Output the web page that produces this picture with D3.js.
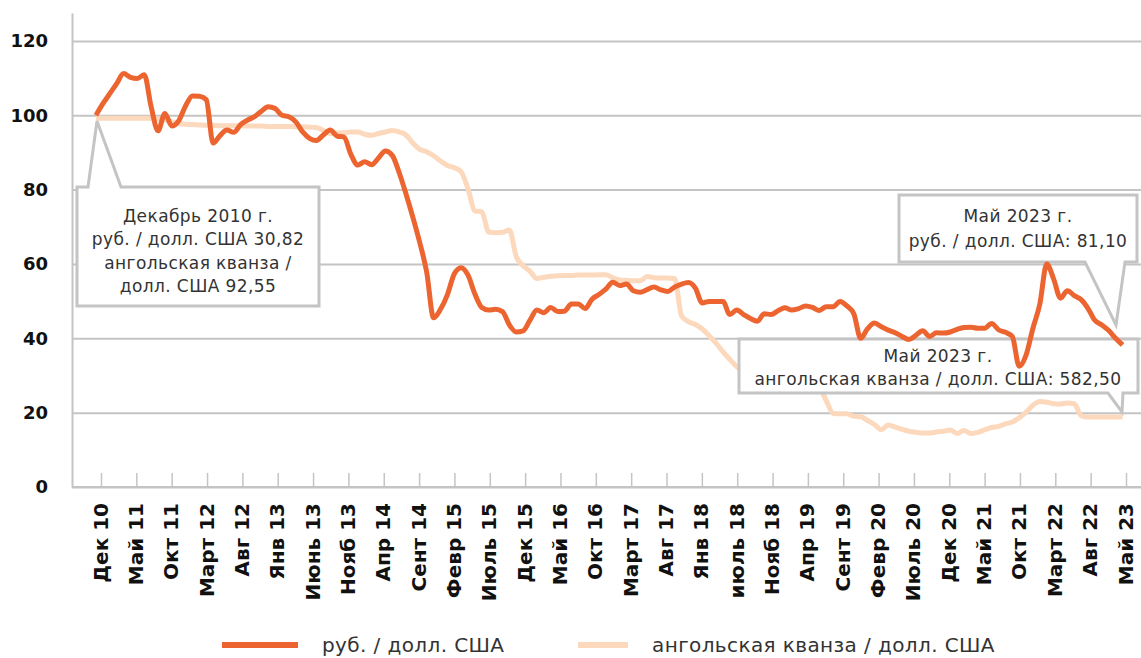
<!DOCTYPE html>
<html>
<head>
<meta charset="utf-8">
<script src="https://cdn.jsdelivr.net/npm/d3@7"></script>
<style>
  body { margin: 0; background: #fff; }
  svg { display: block; }
</style>
</head>
<body>
<div id="chart"></div>
<script>
// tick labels along the bottom (every 5th period)
var xLabels = ["Дек 10", "Май 11", "Окт 11", "Март 12", "Авг 12", "Янв 13", "Июнь 13", "Нояб 13",
  "Апр 14", "Сент 14", "Февр 15", "Июль 15", "Дек 15", "Май 16", "Окт 16", "Март 17", "Авг 17",
  "Янв 18", "июль 18", "Нояб 18", "Апр 19", "Сент 19", "Февр 20", "Июль 20", "Дек 20", "Май 21",
  "Окт 21", "Март 22", "Авг 22", "Май 23"];

var yTicks = [0, 20, 40, 60, 80, 100, 120];

// index, Dec 2010 = 100, monthly
var rub = [100, 103.1, 105.8, 108.5, 111.2, 110.2, 109.9, 110.9, 102.3, 95.8,
  100.5, 97.1, 98.5, 102.5, 105.2, 105.1, 104.2, 92.5, 94.5, 96.0,
  95.4, 97.5, 98.7, 99.6, 101.1, 102.3, 101.8, 100.0, 99.6, 98.2,
  95.5, 93.8, 93.2, 94.7, 96.0, 94.4, 94.1, 89.5, 86.6, 87.5,
  86.7, 88.5, 90.4, 89.2, 84.6, 78.8, 72.5, 65.7, 57.8, 45.5,
  47.8, 51.7, 57.3, 59.0, 57.0, 51.9, 48.3, 47.6, 47.8, 47.2,
  43.6, 41.7, 42.0, 44.9, 47.6, 46.9, 48.3, 47.2, 47.3, 49.2,
  49.2, 48.0, 50.5, 51.8, 53.2, 55.1, 54.2, 54.6, 52.8, 52.4,
  53.1, 53.8, 53.0, 52.6, 53.8, 54.6, 55.0, 53.5, 49.5, 49.9,
  49.9, 49.9, 46.4, 47.6, 46.4, 45.3, 44.6, 46.6, 46.4, 47.4,
  48.2, 47.6, 48.0, 48.7, 48.3, 47.5, 48.5, 48.5, 49.9, 48.7,
  46.6, 40.0, 42.6, 44.1, 43.1, 42.2, 41.5, 40.5, 39.7, 40.8,
  42.0, 40.5, 41.5, 41.4, 41.7, 42.4, 42.9, 43.0, 42.7, 42.7,
  44.0, 42.3, 41.6, 40.5, 32.5, 35.5, 42.7, 49.2, 60.0, 56.0,
  50.8, 52.8, 51.5, 50.4, 48.0, 44.8, 43.6, 42.1, 40.0, 38.2];

var kwanza = [99.2, 99.2, 99.2, 99.2, 99.2, 99.2, 99.2, 99.2, 99.2, 99.0,
  98.8, 98.2, 97.8, 97.6, 97.5, 97.4, 97.3, 97.3, 97.2, 97.2,
  97.2, 97.2, 97.1, 97.1, 97.1, 97.0, 97.0, 97.0, 97.0, 96.9,
  96.9, 96.8, 96.7, 95.9, 95.1, 95.2, 95.3, 95.5, 95.5, 94.9,
  94.6, 95.1, 95.5, 95.9, 95.5, 94.7, 92.5, 90.8, 90.2, 89.1,
  87.7, 86.5, 85.9, 84.8, 80.2, 74.3, 74.0, 68.6, 68.4, 68.5,
  69.1, 62.0, 59.5, 58.0, 56.1, 56.4, 56.7, 56.8, 56.9, 56.9,
  57.0, 57.0, 57.0, 57.1, 57.1, 56.3, 55.7, 55.6, 55.5, 55.5,
  56.6, 56.3, 56.2, 56.2, 56.0, 46.0, 44.5, 43.7, 42.5, 40.7,
  38.7, 36.4, 34.3, 32.4, 31.0, 30.2, 29.5, 29.0, 28.6, 28.3,
  28.0, 27.8, 27.5, 27.2, 27.0, 26.5, 23.2, 19.8, 19.7, 19.7,
  19.0, 18.9, 17.9, 16.8, 15.4, 16.7, 16.1, 15.5, 15.0, 14.7,
  14.5, 14.5, 14.8, 15.0, 15.3, 14.4, 15.2, 14.4, 14.7, 15.4,
  16.0, 16.3, 17.0, 17.5, 18.6, 20.1, 22.0, 23.0, 22.8, 22.4,
  22.3, 22.6, 22.4, 19.2, 18.8, 18.8, 18.8, 18.8, 18.8, 18.8];

var seriesNames = ["руб. / долл. США", "ангольская кванза / долл. США"];
var colors = ["#ec6531", "#fcd8bd"];

var W = 1141, H = 658;
var axisX = 72, axisY = 487;

var svg = d3.select("#chart").append("svg")
  .attr("width", W).attr("height", H);

var x = d3.scaleLinear().domain([0, rub.length - 1]).range([96, 1122.5]);
var xLab = d3.scalePoint().domain(xLabels).range([101, 1126]);
var y = d3.scaleLinear().domain([0, 127.5]).range([axisY, 13]);

// grid
svg.append("g")
  .attr("transform", "translate(" + axisX + ",0)")
  .call(d3.axisLeft(y).tickValues(yTicks).tickSize(-(W - axisX)).tickFormat(""))
  .call(function(g) { g.select(".domain").remove(); })
  .selectAll("line")
    .attr("stroke", "#c4c4c4")
    .attr("stroke-width", 2);

// y axis labels
svg.append("g")
  .attr("transform", "translate(" + axisX + ",0)")
  .call(d3.axisLeft(y).tickValues(yTicks).tickSize(0).tickPadding(24))
  .call(function(g) {
    g.select(".domain").attr("stroke", "#c4c4c4").attr("stroke-width", 2);
  })
  .selectAll("text")
    .attr("font-family", "DejaVu Sans")
    .attr("font-weight", "bold")
    .attr("font-size", "18px")
    .attr("fill", "#111");

// x axis
svg.append("line")
  .attr("x1", axisX).attr("x2", W)
  .attr("y1", axisY).attr("y2", axisY)
  .attr("stroke", "#c4c4c4").attr("stroke-width", 2);

var xAxis = svg.append("g")
  .attr("transform", "translate(0," + axisY + ")")
  .call(d3.axisBottom(xLab).tickSize(-14));
xAxis.select(".domain").remove();
xAxis.selectAll("line").attr("stroke", "#c4c4c4").attr("stroke-width", 1.5);
xAxis.selectAll("text")
  .attr("transform", "rotate(-90)")
  .attr("text-anchor", "end")
  .attr("x", -16)
  .attr("y", 0)
  .attr("dy", "0.3em")
  .attr("font-family", "DejaVu Sans")
  .attr("font-weight", "bold")
  .attr("font-size", "20px")
  .attr("fill", "#111");

var line = d3.line()
  .x(function(d, i) { return x(i); })
  .y(function(d) { return y(d); })
  .curve(d3.curveMonotoneX);

svg.append("path")
  .datum(kwanza)
  .attr("fill", "none")
  .attr("stroke", colors[1])
  .attr("stroke-width", 5)
  .attr("stroke-linejoin", "round")
  .attr("d", line);

// callouts
var callouts = [
  { path: "M77,187 L88,187 L97,121 L121,187 L319,187 L319,306 L77,306 Z",
    cx: 198, lines: ["Декабрь 2010 г.", "руб. / долл. США 30,82", "ангольская кванза /", "долл. США 92,55"], y0: 222, lh: 23.4 },
  { path: "M899,195 L1137,195 L1137,262 L1125,262 L1116,325 L1085,262 L899,262 Z",
    cx: 1018, lines: ["Май 2023 г.", "руб. / долл. США: 81,10"], y0: 222, lh: 24.5 },
  { path: "M739,339 L1138,339 L1138,393 L1123,393 L1122,412 L1108,393 L739,393 Z",
    cx: 938, lines: ["Май 2023 г.", "ангольская кванза / долл. США: 582,50"], y0: 362, lh: 23.4 }
];

callouts.forEach(function(c) {
  svg.append("path")
    .attr("d", c.path)
    .attr("fill", "#fff")
    .attr("stroke", "#c4c4c4")
    .attr("stroke-width", 3);
  c.lines.forEach(function(t, i) {
    svg.append("text")
      .attr("x", c.cx)
      .attr("y", c.y0 + i * c.lh)
      .attr("text-anchor", "middle")
      .attr("font-family", "DejaVu Sans")
      .attr("font-size", "17px")
      .attr("letter-spacing", "0.4px")
      .attr("fill", "#333")
      .text(t);
  });
});

svg.append("path")
  .datum(rub)
  .attr("fill", "none")
  .attr("stroke", colors[0])
  .attr("stroke-width", 5)
  .attr("stroke-linejoin", "round")
  .attr("d", line);

// legend
var legendX = [222, 578];
var legend = svg.selectAll(".legend")
  .data(seriesNames)
  .enter().append("g")
  .attr("class", "legend")
  .attr("transform", function(d, i) { return "translate(" + legendX[i] + ",645)"; });

legend.append("line")
  .attr("x1", 0).attr("x2", function(d, i) { return i == 0 ? 76 : 50; })
  .attr("stroke", function(d, i) { return colors[i]; })
  .attr("stroke-width", 6);

legend.append("text")
  .attr("x", function(d, i) { return i == 0 ? 100 : 74; })
  .attr("y", 7)
  .attr("font-family", "DejaVu Sans")
  .attr("font-size", "20px")
  .attr("letter-spacing", "0.4px")
  .attr("fill", "#333")
  .text(function(d) { return d; });
</script>
</body>
</html>
